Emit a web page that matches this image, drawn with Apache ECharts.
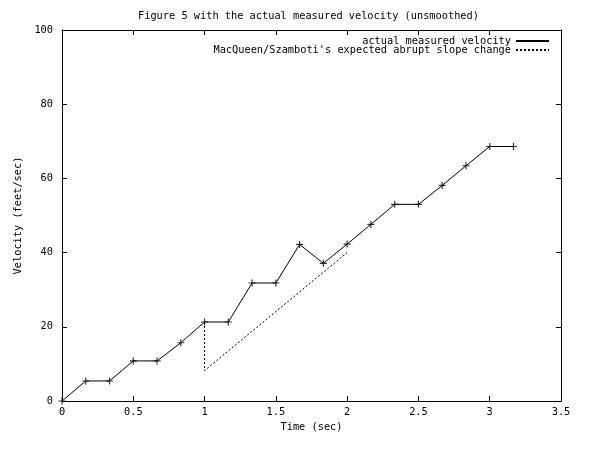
<!DOCTYPE html>
<html>
<head>
<meta charset="utf-8">
<script src="https://cdn.jsdelivr.net/npm/echarts@6/dist/echarts.min.js"></script>
<style>
  html, body { margin: 0; padding: 0; background: #fff; }
  #chart { width: 601px; height: 453px; }
</style>
</head>
<body>
<div id="chart"></div>
<script>
// measured samples, every 1/6 second
var times = [0, 0.1667, 0.3333, 0.5, 0.6667, 0.8333, 1.0, 1.1667, 1.3333, 1.5,
  1.6667, 1.8333, 2.0, 2.1667, 2.3333, 2.5, 2.6667, 2.8333, 3.0, 3.1667];
var velocity = [0, 5.4, 5.4, 10.8, 10.8, 15.7, 21.3, 21.3, 31.8, 31.8,
  42.2, 37.1, 42.3, 47.6, 53.0, 53.0, 58.1, 63.4, 68.6, 68.6];

// expected abrupt slope change
var expTimes = [1.0, 1.0, 2.0];
var expVelocity = [21.3, 8.2, 40.0];

var xTicks = { min: 0, max: 3.5, step: 0.5 };
var yTicks = { min: 0, max: 100, step: 20 };

var nameA = 'actual measured velocity';
var nameB = "MacQueen/Szamboti's expected abrupt slope change";

var FONT = 'DejaVu Sans Mono';
var measured = times.map(function (t, i) { return [t, velocity[i]]; });
var expected = expTimes.map(function (t, i) { return [t, expVelocity[i]]; });

var chart = echarts.init(document.getElementById('chart'));

var axisBase = {
  type: 'value',
  axisLine: { show: true, onZero: false, lineStyle: { color: '#000', width: 1 } },
  axisTick: { show: true, inside: true, length: 5, lineStyle: { color: '#000' } },
  splitLine: { show: false },
  axisLabel: { color: '#000', fontFamily: FONT, fontSize: 10.3 }
};

// label-less axis for the mirrored ticks on the top / right sides
function tickAxis(position, r) {
  return Object.assign({}, axisBase, {
    position: position, min: r.min, max: r.max, interval: r.step,
    axisLabel: { show: false }
  });
}

function legendAt(name, top) {
  return {
    data: [{ name: name, itemStyle: { opacity: 0 } }],
    right: 46,
    top: top,
    align: 'right',
    itemWidth: 33,
    itemHeight: 10,
    selectedMode: false,
    textStyle: { color: '#000', fontFamily: FONT, fontSize: 10.3, lineHeight: 10 }
  };
}

var option = {
  backgroundColor: '#fff',
  animation: false,
  title: {
    text: 'Figure 5 with the actual measured velocity (unsmoothed)',
    left: 133,
    top: 6,
    textStyle: { color: '#000', fontFamily: FONT, fontSize: 10.3, fontWeight: 'normal' }
  },
  legend: [legendAt(nameA, 31), legendAt(nameB, 40)],
  grid: { left: 62, right: 40, top: 30, bottom: 52 },
  xAxis: [
    Object.assign({}, axisBase, {
      position: 'bottom',
      min: xTicks.min, max: xTicks.max, interval: xTicks.step,
      name: 'Time (sec)', nameLocation: 'middle', nameGap: 21,
      nameTextStyle: { color: '#000', fontFamily: FONT, fontSize: 10.3 },
      axisLabel: Object.assign({}, axisBase.axisLabel, { margin: 6 })
    }),
    tickAxis('top', xTicks)
  ],
  yAxis: [
    Object.assign({}, axisBase, {
      position: 'left',
      min: yTicks.min, max: yTicks.max, interval: yTicks.step,
      name: 'Velocity (feet/sec)', nameLocation: 'middle', nameGap: 31,
      nameTextStyle: { color: '#000', fontFamily: FONT, fontSize: 10.3 },
      axisLabel: Object.assign({}, axisBase.axisLabel, { margin: 9 })
    }),
    tickAxis('right', yTicks)
  ],
  series: [
    {
      name: nameA,
      type: 'line',
      data: measured,
      symbol: 'none',
      lineStyle: { color: '#000', width: 1 },
      itemStyle: { color: '#000' }
    },
    {
      name: 'markers',
      type: 'scatter',
      data: measured,
      symbol: 'path://M-0.5,-3H0.5V3H-0.5Z M-3,-0.5H3V0.5H-3Z',
      symbolSize: 7,
      itemStyle: { color: '#000' }
    },
    {
      name: nameB,
      type: 'line',
      data: expected,
      symbol: 'none',
      lineStyle: { color: '#000', width: 1, type: [2, 2] },
      itemStyle: { color: '#000' }
    }
  ]
};

chart.setOption(option);
</script>
</body>
</html>
